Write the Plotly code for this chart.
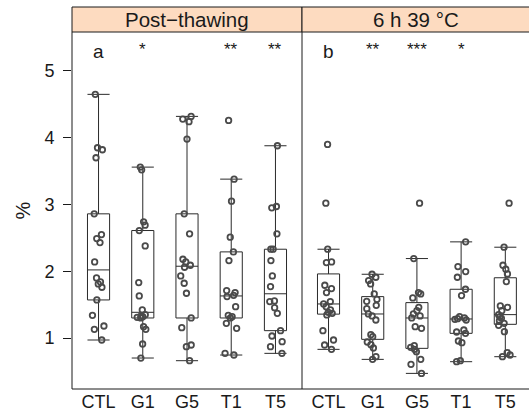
import plotly.graph_objects as go

categories = ["CTL", "G1", "G5", "T1", "T5"]
panel_titles = ["Post\u2212thawing", "6 h 39 °C"]
panel_letters = ["a", "b"]
post_signif = ["", "*", "", "**", "**"]
heat_signif = ["", "**", "***", "*", ""]
y_ticks = [1, 2, 3, 4, 5]

# Post-thawing values (%)
post_ctl = [4.65, 3.85, 3.82, 3.70, 2.86, 2.55, 2.49, 2.43, 2.14, 1.90, 1.84, 1.81, 1.76, 1.57, 1.34, 1.18, 1.13, 0.97]
post_g1 = [3.56, 3.52, 2.74, 2.69, 2.61, 2.38, 1.83, 1.63, 1.42, 1.35, 1.33, 1.32, 1.31, 1.30, 1.17, 1.13, 0.91, 0.70]
post_g5 = [4.32, 4.28, 4.24, 3.98, 2.86, 2.56, 2.18, 2.14, 2.09, 2.06, 1.93, 1.82, 1.67, 1.30, 1.155, 0.895, 0.87, 0.66]
post_t1 = [4.26, 3.38, 3.05, 2.51, 2.29, 2.16, 1.71, 1.68, 1.64, 1.62, 1.47, 1.34, 1.32, 1.30, 1.22, 1.145, 0.77, 0.745]
post_t5 = [3.88, 2.97, 2.95, 2.56, 2.33, 2.33, 2.16, 1.93, 1.77, 1.555, 1.545, 1.455, 1.37, 1.11, 1.03, 0.945, 0.87, 0.77]

# 6 h 39 °C values (%)
heat_ctl = [3.90, 3.02, 2.33, 2.14, 2.13, 1.79, 1.74, 1.68, 1.545, 1.51, 1.47, 1.42, 1.385, 1.37, 1.345, 1.11, 0.97, 0.895, 0.83]
heat_g1 = [1.955, 1.91, 1.86, 1.81, 1.66, 1.58, 1.55, 1.49, 1.44, 1.36, 1.33, 1.27, 1.05, 1.02, 0.94, 0.90, 0.85, 0.72, 0.68]
heat_g5 = [3.02, 2.19, 1.68, 1.66, 1.60, 1.46, 1.41, 1.36, 1.33, 1.30, 1.17, 1.145, 0.885, 0.86, 0.83, 0.795, 0.68, 0.605, 0.47]
heat_t1 = [2.44, 2.07, 1.995, 1.91, 1.73, 1.635, 1.32, 1.30, 1.29, 1.28, 1.27, 1.12, 1.09, 1.07, 0.955, 0.93, 0.66, 0.645]
heat_t5 = [3.02, 2.36, 2.09, 2.03, 1.96, 1.845, 1.48, 1.46, 1.41, 1.35, 1.32, 1.295, 1.26, 1.22, 1.19, 1.095, 0.78, 0.745, 0.72]

post_groups = [post_ctl, post_g1, post_g5, post_t1, post_t5]
heat_groups = [heat_ctl, heat_g1, heat_g5, heat_t1, heat_t5]

FONT = "Liberation Sans, Arial, Helvetica, sans-serif"
INK = "#1a1a1a"
BOXLINE = "#2a2a2a"
PT = "#4a4a4a"
STRIP = "#FDDBC0"

W, H = 529, 417
ML, MR, MT, MB = 72, 0, 32, 28
plot_w = W - ML - MR
split = 230 / plot_w

fig = go.Figure()

def add_panel(groups, xa):
    xs, ys = [], []
    for cat, vals in zip(categories, groups):
        xs += [cat] * len(vals)
        ys += vals
    fig.add_trace(go.Box(
        x=xs, y=ys, xaxis=xa, yaxis="y",
        boxpoints="all", jitter=0.65, pointpos=0,
        quartilemethod="inclusive",
        width=0.5, whiskerwidth=1,
        fillcolor="rgba(0,0,0,0)",
        line=dict(color=BOXLINE, width=1),
        marker=dict(symbol="circle-open", size=5.5, color=PT,
                    line=dict(color=PT, width=1.8)),
        showlegend=False, hoverinfo="y",
    ))

add_panel(post_groups, "x")
add_panel(heat_groups, "x2")

cat_step = 44.2
xaxis_common = dict(type="category", categoryorder="array", categoryarray=categories,
                    showgrid=False, zeroline=False, showline=False,
                    ticks="",
                    tickfont=dict(size=18, color=INK), anchor="y")
fig.update_layout(
    width=W, height=H,
    margin=dict(l=ML, r=MR, t=MT, b=MB, autoexpand=False),
    paper_bgcolor="white", plot_bgcolor="white",
    font=dict(family=FONT, color=INK),
    xaxis=dict(domain=[0, split], range=[-0.6, 4.6], **xaxis_common),
    xaxis2=dict(domain=[split, 1], range=[-0.6, -0.6 + (plot_w - 230) / cat_step],
                **xaxis_common),
    yaxis=dict(range=[0.236, 5.584], tickvals=y_ticks,
               ticktext=[str(v) for v in y_ticks],
               showgrid=False, zeroline=False, showline=False,
               ticks="outside", ticklen=8, tickcolor=INK, tickwidth=1,
               ticklabelstandoff=5,
               tickfont=dict(size=18, color=INK),
               title=dict(text="%", font=dict(size=20, color=INK), standoff=8),
               anchor="x"),
)

strip_top = 1 + 25 / (H - MT - MB)
shapes = []
shapes.append(dict(type="rect", xref="x domain", yref="paper", x0=0, x1=1,
                   y0=1, y1=strip_top, fillcolor=STRIP, line=dict(color=INK, width=1)))
shapes.append(dict(type="rect", xref="x2 domain", yref="paper", x0=0, x1=1.05,
                   y0=1, y1=strip_top, fillcolor=STRIP, line=dict(color=INK, width=1)))
shapes.append(dict(type="line", xref="paper", yref="paper", x0=0, x1=1.05, y0=0, y1=0,
                   line=dict(color=INK, width=1)))
shapes.append(dict(type="line", xref="paper", yref="paper", x0=0, x1=0, y0=0, y1=1,
                   line=dict(color=INK, width=1)))
shapes.append(dict(type="line", xref="paper", yref="paper", x0=split, x1=split, y0=0, y1=1,
                   line=dict(color=INK, width=1)))
fig.update_layout(shapes=shapes)

ann = []
for title, xa in zip(panel_titles, ["x", "x2"]):
    ann.append(dict(text=title, xref=xa + " domain", yref="paper", x=0.5,
                    y=(1 + strip_top) / 2, showarrow=False,
                    font=dict(size=20.5, color=INK), xanchor="center", yanchor="middle"))
for letter, xa in zip(panel_letters, ["x", "x2"]):
    ann.append(dict(text=letter, xref=xa, yref="paper", x=categories[0],
                    y=0.944, showarrow=False, font=dict(size=19, color=INK),
                    xanchor="center", yanchor="middle"))
for sigs, xa in [(post_signif, "x"), (heat_signif, "x2")]:
    for cat, s in zip(categories, sigs):
        if s:
            ann.append(dict(text=s, xref=xa, yref="paper", x=cat, y=0.952,
                            showarrow=False, font=dict(size=17, color=INK),
                            xanchor="center", yanchor="middle"))
fig.update_layout(annotations=ann)

fig.write_html("out.html", config={"displayModeBar": False},
               post_script="document.body.style.margin='0';")
